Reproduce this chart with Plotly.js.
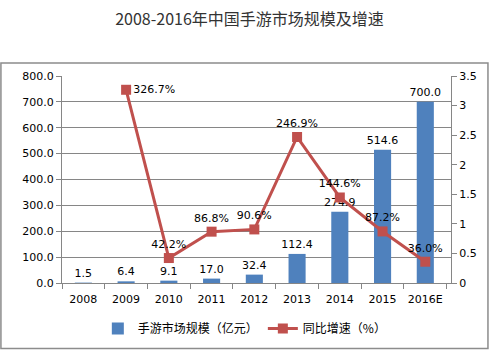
<!DOCTYPE html>
<html>
<head>
<meta charset="utf-8">
<script src="https://cdn.plot.ly/plotly-3.0.1.min.js"></script>
<style>html,body{margin:0;padding:0;background:#fff;}#chart{width:499px;height:360px;}</style>
</head>
<body>
<div id="chart"></div>
<script>
const years = ['2008','2009','2010','2011','2012','2013','2014','2015','2016E'];
const marketSize = [1.5, 6.4, 9.1, 17.0, 32.4, 112.4, 274.9, 514.6, 700.0];
const growthYears = ['2009','2010','2011','2012','2013','2014','2015','2016E'];
const growthRate = [3.267, 0.422, 0.868, 0.906, 2.469, 1.446, 0.872, 0.360];
const growthPos = ['middle right','top center','top center','top center','top center','top center','top center','top center'];

const sizeLabels = marketSize.map(v => v.toFixed(1));
const rateLabels = growthRate.map(v => (v*100).toFixed(1) + '%');

const labelFont = {family: 'DejaVu Sans, Verdana, sans-serif', size: 11, color: '#000'};
const cjk = 'Noto Sans CJK SC, sans-serif';

const traces = [
  {
    type: 'bar', x: years, y: marketSize, name: '手游市场规模（亿元）',
    marker: {color: '#4F81BD'}, width: 0.4,
    text: sizeLabels, textposition: 'outside', textfont: labelFont, cliponaxis: false,
    constraintext: 'none'
  },
  {
    type: 'scatter', mode: 'lines+markers+text', x: growthYears, y: growthRate, yaxis: 'y2',
    name: '同比增速（%）',
    line: {color: '#C0504D', width: 3},
    marker: {symbol: 'square', size: 10, color: '#C0504D'},
    text: rateLabels, textposition: growthPos, textfont: labelFont, cliponaxis: false
  }
];

const layout = {
  width: 499, height: 360,
  margin: {l: 62, r: 48, t: 76, b: 77},
  paper_bgcolor: '#fff', plot_bgcolor: '#fff',
  title: {text: '2008-2016年中国手游市场规模及增速', font: {family: cjk, size: 16, color: '#333'},
          x: 0.5, xanchor: 'center', y: 0.947, yref: 'container', yanchor: 'middle'},
  showlegend: true,
  legend: {orientation: 'h', x: 0.47, xanchor: 'center', y: -0.22, yanchor: 'middle',
           font: {family: cjk, size: 12, color: '#000'}, itemwidth: 30, traceorder: 'normal'},
  xaxis: {type: 'category', showline: true, linecolor: '#868686', linewidth: 1,
          ticks: 'outside', tickson: 'boundaries', ticklen: 5, tickcolor: '#868686',
          tickfont: labelFont, tickangle: 0, showgrid: false, ticklabelstandoff: 6},
  yaxis: {range: [0, 800], dtick: 100, tickformat: '.1f', showline: true, linecolor: '#868686',
          ticks: 'outside', ticklen: 5, tickcolor: '#868686', gridcolor: '#868686', gridwidth: 1,
          tickfont: labelFont, zeroline: false},
  yaxis2: {range: [0, 3.5], dtick: 0.5, overlaying: 'y', side: 'right', showline: true,
           linecolor: '#868686', ticks: 'outside', ticklen: 5, tickcolor: '#868686',
           showgrid: false, zeroline: false, tickfont: labelFont},
  shapes: [{type: 'rect', xref: 'paper', yref: 'paper', x0: -0.157, x1: 1.095, y0: -0.317, y1: 1.0625,
            line: {color: '#8c8c8c', width: 1.5}, fillcolor: 'rgba(0,0,0,0)', layer: 'below'}]
};

Plotly.newPlot('chart', traces, layout, {displayModeBar: false, staticPlot: true});
</script>
</body>
</html>
